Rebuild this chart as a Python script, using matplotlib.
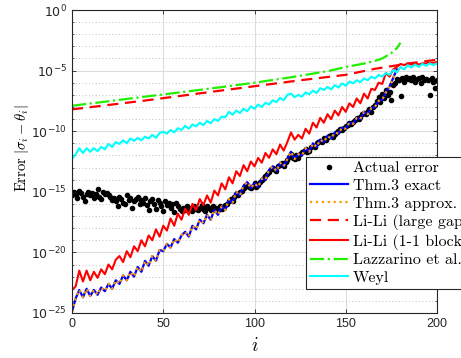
import numpy as np
import matplotlib
matplotlib.use("Agg")
import matplotlib.pyplot as plt
from matplotlib.ticker import FixedLocator, NullFormatter

# log10 of the error values
idx_step2 = np.arange(0, 201, 2)
idx_all = np.arange(0, 201)

actual_err = [
    -15.3, -15.0, -15.2, -15.5, -14.9, -15.1, -15.4, -15.8, -15.2, -15.0,
    -15.3, -15.1, -15.5, -15.2, -14.8, -15.4, -15.6, -15.0, -15.2, -15.1,
    -15.3, -15.4, -15.7, -15.5, -15.8, -16.2, -15.4, -15.6, -15.9, -16.0,
    -15.3, -15.7, -15.5, -16.3, -15.8, -15.6, -15.4, -16.0, -15.7, -15.9,
    -15.5, -16.1, -16.5, -15.8, -15.6, -16.0, -16.4, -15.7, -15.9, -16.2,
    -16.6, -15.8, -16.1, -15.9, -16.3, -16.0, -16.7, -15.9, -16.2, -16.4,
    -16.6, -16.3, -16.5, -16.2, -16.4, -16.3, -16.6, -16.2, -16.4, -16.5,
    -16.3, -16.1, -16.4, -16.6, -16.2, -16.3, -16.5, -16.2, -16.4, -16.3,
    -16.5, -16.2, -16.4, -16.3, -16.1, -16.0, -15.8, -15.6, -15.8, -15.4,
    -15.2, -15.3, -15.0, -14.9, -14.7, -14.5, -14.4, -14.6, -14.7, -14.5,
    -14.3, -14.6, -14.4, -14.2, -14.0, -13.9, -13.7, -13.5, -13.4, -13.1,
    -13.0, -13.2, -13.3, -12.9, -12.8, -12.6, -12.9, -12.5, -12.4, -12.1,
    -11.9, -12.2, -12.3, -12.0, -12.2, -11.9, -11.7, -11.6, -11.5, -11.7,
    -11.6, -11.3, -11.2, -11.3, -11.0, -10.9, -10.8, -10.9, -10.6, -10.7,
    -10.5, -10.4, -10.3, -10.5, -10.2, -10.1, -10.0, -9.8, -9.9, -9.7,
    -9.6, -9.5, -9.3, -9.4, -9.2, -9.1, -8.9, -9.0, -8.8, -8.6,
    -8.5, -8.6, -8.3, -8.2, -8.4, -8.0, -7.8, -7.5, -7.2, -7.6,
    -6.9, -7.3, -6.6, -7.0, -6.8, -7.4, -6.2, -6.0, -5.7, -5.8,
    -7.1, -5.6, -5.9, -5.5, -5.7, -5.6, -5.8, -5.5, -5.9, -5.7,
    -5.6, -6.0, -5.5, -5.8, -5.7, -5.8, -7.0, -5.6, -5.9, -6.4,
    -5.8,
]

thm3 = [
    -24.9, -23.8, -23.1, -23.7, -23.0, -23.6, -23.1, -23.5, -22.9, -23.2,
    -22.6, -23.0, -22.3, -22.6, -21.9, -22.3, -21.6, -22.0, -21.2, -21.6,
    -20.7, -21.1, -20.3, -20.7, -19.8, -19.9, -19.3, -19.6, -18.9, -19.2,
    -18.6, -18.3, -18.7, -17.8, -18.1, -17.3, -17.6, -16.9, -17.3, -16.5,
    -16.9, -16.2, -16.5, -15.6, -15.9, -15.0, -15.3, -14.5, -14.2, -14.7,
    -14.3, -14.6, -13.9, -14.0, -13.2, -12.9, -13.3, -12.6, -12.9, -12.3,
    -11.7, -12.3, -11.9, -12.0, -11.4, -11.7, -11.0, -11.3, -10.7, -10.9,
    -10.4, -10.6, -10.1, -10.2, -9.7, -9.8, -9.3, -9.4, -8.9, -9.0,
    -8.4, -8.6, -8.1, -8.0, -7.5, -7.4, -6.8, -6.3, -5.6, -4.9,
]

lili_gap_i = [0, 40, 80, 125, 150, 166, 185, 200]
lili_gap = [-8.2, -7.47, -6.68, -5.8, -5.35, -4.85, -4.4, -4.1]

lili_block = [
    -23.1, -22.8, -21.5, -22.4, -21.5, -22.3, -21.6, -22.1, -21.4, -21.8,
    -21.0, -21.4, -20.6, -20.3, -20.8, -19.9, -20.4, -19.5, -19.9, -19.0,
    -19.5, -18.6, -19.0, -18.1, -18.7, -17.8, -18.2, -17.2, -17.8, -16.8,
    -17.3, -16.4, -16.9, -16.0, -16.5, -15.6, -16.1, -15.3, -15.9, -14.9,
    -15.3, -14.3, -14.8, -13.8, -14.3, -13.3, -13.7, -12.8, -13.3, -12.5,
    -12.9, -12.2, -12.6, -11.8, -12.2, -11.5, -11.9, -11.1, -11.6, -10.9,
    -10.1, -10.7, -10.3, -10.6, -9.8, -10.2, -9.3, -9.7, -8.9, -9.3,
    -8.6, -9.0, -8.3, -8.7, -8.0, -8.4, -7.7, -8.0, -7.3, -7.7,
    -6.9, -7.3, -6.5, -6.6, -6.0, -6.1, -5.2, -5.5, -4.9, -4.7,
    -4.45, -4.55, -4.4, -4.5, -4.4, -4.5, -4.4, -4.4, -4.35, -4.35,
    -4.3,
]

lazz_i = [0, 20, 40, 60, 80, 100, 120, 140, 150, 160, 166, 170, 175, 178, 180]
lazz = [-7.9, -7.53, -7.15, -6.78, -6.4, -6.0, -5.55, -5.05, -4.7, -4.42,
        -4.2, -4.0, -3.55, -3.15, -2.7]

weyl = [
    -12.3, -11.9, -11.4, -11.8, -11.4, -11.7, -11.4, -11.65, -11.3, -11.5,
    -11.05, -11.3, -10.9, -11.05, -10.75, -11.0, -10.6, -10.8, -10.55, -10.75,
    -10.45, -10.6, -10.3, -10.55, -10.15, -10.05, -10.2, -9.9, -10.1, -9.75,
    -9.9, -9.55, -9.8, -9.45, -9.6, -9.3, -9.5, -9.15, -9.35, -9.0,
    -9.15, -8.8, -8.85, -8.4, -8.65, -8.3, -8.5, -8.15, -8.35, -7.95,
    -8.15, -7.8, -8.0, -7.65, -7.8, -7.45, -7.6, -7.25, -7.45, -7.0,
    -6.9, -7.2, -7.0, -7.15, -6.8, -6.95, -6.65, -6.85, -6.45, -6.6,
    -6.35, -6.55, -6.2, -6.4, -6.05, -6.25, -5.9, -6.05, -5.8, -5.95,
    -5.65, -5.8, -5.5, -5.65, -5.35, -5.5, -5.2, -5.35, -4.95, -5.15,
    -4.7, -4.9, -4.55, -4.75, -4.5, -4.7, -4.45, -4.6, -4.4, -4.55,
    -4.4,
]

legend_labels = ["Actual error", "Thm.3 exact", "Thm.3 approx.",
                 "Li-Li (large gap)", "Li-Li (1-1 block)",
                 "Lazzarino et al.", "Weyl"]

plt.rcParams['font.family'] = ['Liberation Sans', 'DejaVu Sans']
plt.rcParams['mathtext.fontset'] = 'dejavusans'

fig = plt.figure(figsize=(4.61, 3.58), dpi=100)
ax = fig.add_axes([72 / 461, 1 - 313 / 358, 365 / 461, 303 / 358])

thm3_i = idx_step2[:len(thm3)]
ax.plot(idx_all, 10.0 ** np.array(actual_err), 'o', color='k',
        markersize=3, linestyle='none', label=legend_labels[0])
ax.plot(thm3_i, 10.0 ** np.array(thm3), '-', color='#0000ff', lw=1.6,
        label=legend_labels[1])
ax.plot(thm3_i, 10.0 ** np.array(thm3), ':', color='#ff9900', lw=1.6,
        label=legend_labels[2])
ax.plot(lili_gap_i, 10.0 ** np.array(lili_gap), '--', color='#ff0000',
        lw=1.6, dashes=(5, 3), label=legend_labels[3])
ax.plot(idx_step2, 10.0 ** np.array(lili_block), '-', color='#ff0000',
        lw=1.5, label=legend_labels[4])
ax.plot(lazz_i, 10.0 ** np.array(lazz), '-.', color='#22ee00', lw=1.6,
        label=legend_labels[5])
ax.plot(idx_step2, 10.0 ** np.array(weyl), '-', color='#00ffff', lw=1.5,
        label=legend_labels[6])

ax.set_yscale('log')
ax.set_xlim(0, 200)
ax.set_ylim(1e-25, 1e0)
ax.set_xticks([0, 50, 100, 150, 200])
major = [10.0 ** k for k in range(-25, 1, 5)]
ax.yaxis.set_major_locator(FixedLocator(major))
ax.set_yticklabels([r'$10^{%d}$' % k for k in range(-25, 1, 5)])
ax.yaxis.set_minor_locator(FixedLocator([10.0 ** k for k in range(-25, 1)]))
ax.yaxis.set_minor_formatter(NullFormatter())

ax.grid(True, which='major', color='#dcdcdc', lw=0.8)
ax.grid(True, which='minor', axis='y', color='#b0b0b0', lw=0.6,
        linestyle=(0, (1, 3)))
ax.set_axisbelow(True)
ax.tick_params(which='both', direction='in', top=True, right=True,
               colors='#262626', labelsize=9)
ax.tick_params(which='major', length=3, width=0.6)
ax.tick_params(which='minor', length=1.5, width=0.5)
for s in ax.spines.values():
    s.set_color('#262626')
    s.set_linewidth(0.8)

ax.set_xlabel(r'$i$', math_fontfamily='cm', fontsize=14, labelpad=5)
ax.set_ylabel(r'$\mathrm{Error}\ |\sigma_i-\theta_i|$', math_fontfamily='cm',
              fontsize=10.5)
ax.yaxis.set_label_coords(-0.113, 0.545)

leg = fig.legend(loc='upper left', bbox_to_anchor=(306 / 461, 1 - 157 / 358),
                 bbox_transform=fig.transFigure, borderaxespad=0,
                 prop={'family': 'cmr10', 'size': 11.5}, fancybox=False,
                 framealpha=1, edgecolor='#262626', handlelength=2.4,
                 handletextpad=0.3, labelspacing=0.22, borderpad=0.25)
leg.get_frame().set_linewidth(0.8)

fig.savefig('out.png', dpi=100)
